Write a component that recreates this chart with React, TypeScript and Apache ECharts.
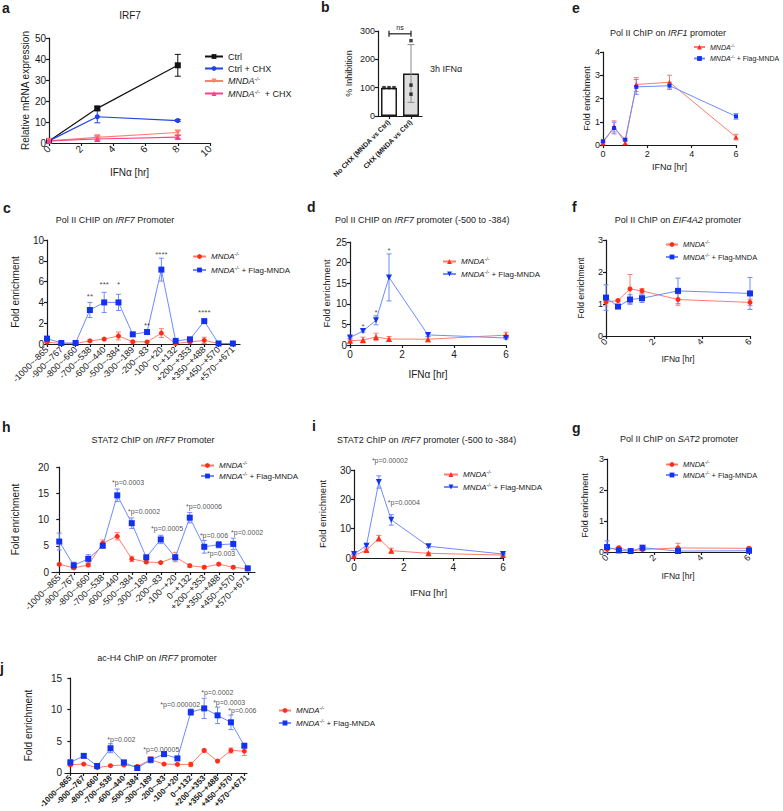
import React, { useEffect, useRef } from 'react';
import * as echarts from 'echarts';

const FONT = '"Liberation Sans", Arial, Helvetica, sans-serif';

// ---------- Panel a ----------
const aTimes = [0, 3, 8];
const aCtrl = [1, 16.5, 37];
const aCtrlErr = [0.3, 0.8, 5.2];
const aCtrlChx = [1, 12.5, 10.7];
const aCtrlChxErr = [0.3, 2.9, 0.5];
const aMnda = [1, 2.7, 5.0];
const aMndaErr = [0.3, 0.8, 1.0];
const aMndaChx = [1, 1.9, 2.8];
const aMndaChxErr = [0.3, 1.0, 0.8];

// ---------- Panel b ----------
const bCats = ['No CHX (MNDA vs Ctrl)', 'CHX (MNDA vs Ctrl)'];
const bMeans = [100, 150];
const bErr = [0, 102];
const bDots0 = [100, 100, 100];
const bDots1 = [266, 109, 77];
const bDotOffsets0 = [-5, 0, 5];

// ---------- time axes ----------
const tHours = [0, 0.5, 1, 1.5, 3, 6];

// ---------- Panel e (IRF1) ----------
const eMnda = [0.09, 0.8, 0.1, 2.6, 2.7, 0.34];
const eMndaErr = [0.05, 0.24, 0.08, 0.3, 0.3, 0.12];
const eFlag = [0.16, 0.73, 0.23, 2.5, 2.55, 1.23];
const eFlagErr = [0.05, 0.25, 0.05, 0.32, 0.15, 0.12];

// ---------- Promoter regions ----------
const regions = [
  '-1000~-865', '-900~-767', '-800~-660', '-700~-538', '-600~-440', '-500~-384', '-300~-189',
  '-200~-83', '-100~+20', '0~+132', '+200~+353', '+350~+488', '+450~+570', '+570~+671',
];

// ---------- Panel c ----------
const cMnda = [0.18, 0.05, 0.05, 0.3, 0.47, 0.77, 0.22, 0.2, 1.05, 0.05, 0.2, 0.35, 0.05, 0.05];
const cMndaErr = [0.05, 0.03, 0.03, 0.1, 0.1, 0.38, 0.05, 0.05, 0.42, 0.03, 0.05, 0.3, 0.03, 0.03];
const cFlag = [0.52, 0.1, 0.1, 3.27, 4.0, 4.0, 0.93, 1.15, 7.15, 0.3, 0.45, 2.2, 0.05, 0.05];
const cFlagErr = [0.1, 0.03, 0.03, 0.73, 0.97, 0.78, 0.08, 0.2, 1.1, 0.05, 0.05, 0.1, 0.02, 0.02];
const cStarIdx = [3, 4, 5, 7, 8, 11];
const cStarY = [4.55, 5.7, 5.7, 1.76, 8.6, 3.0];
const cStarText = ['**', '***', '*', '**', '****', '****'];

// ---------- Panel d ----------
const dMnda = [1.05, 1.2, 1.95, 1.45, 1.4, 2.4];
const dMndaErr = [0.3, 0.7, 0.9, 0.6, 0.6, 0.7];
const dFlag = [1.8, 3.4, 6.0, 16.4, 2.45, 1.7];
const dFlagErr = [0.2, 0.3, 1.1, 5.7, 0.4, 0.3];
const dStarX = [0.5, 1, 1.5];
const dStarY = [4.6, 7.9, 22.9];
const dStarText = ['*', '*', '*'];

// ---------- Panel f (EIF4A2) ----------
const fMnda = [1.06, 1.11, 1.47, 1.41, 1.14, 1.05];
const fMndaErr = [0.12, 0.03, 0.45, 0.07, 0.18, 0.1];
const fFlag = [1.2, 0.92, 1.14, 1.18, 1.41, 1.33];
const fFlagErr = [0.4, 0.04, 0.15, 0.13, 0.4, 0.5];

// ---------- Panel h ----------
const hMnda = [1.46, 0.8, 1.33, 5.5, 6.8, 2.5, 1.9, 1.8, 2.85, 1.2, 0.9, 1.5, 0.9, 0.6];
const hMndaErr = [0.2, 0.3, 0.3, 0.6, 0.7, 0.5, 0.2, 0.2, 0.9, 0.3, 0.2, 0.2, 0.2, 0.1];
const hFlag = [5.8, 1.27, 2.5, 5.0, 14.6, 9.3, 2.8, 6.2, 2.8, 10.35, 4.8, 5.2, 5.35, 0.7];
const hFlagErr = [1.6, 0.6, 0.8, 0.4, 1.2, 1.0, 0.2, 0.8, 0.5, 1.0, 1.2, 0.6, 1.1, 0.1];
const hNoteX = [3.64, 4.74, 6.33, 8.74, 9.7, 10.19, 11.85];
const hNoteY = [17.1, 11.5, 8.2, 12.4, 6.9, 3.6, 7.6];
const hNoteText = ['*p=0.0003', '*p=0.0002', '*p=0.0005', '*p=0.00006', '*p=0.006', '*p=0.003', '*p=0.0002'];

// ---------- Panel i ----------
const iMnda = [0.8, 2.7, 6.7, 2.5, 1.6, 1.0];
const iMndaErr = [0.2, 0.4, 1.0, 0.8, 0.2, 0.2];
const iFlag = [1.35, 4.2, 25.9, 13.0, 4.0, 1.35];
const iFlagErr = [0.2, 0.4, 2.1, 1.8, 0.5, 0.2];
const iNoteX = [0.72, 1.36];
const iNoteY = [33.4, 19.0];
const iNoteText = ['*p=0.00002', '*p=0.0004'];

// ---------- Panel g (SAT2) ----------
const gMnda = [0.09, 0.14, 0.03, 0.08, 0.13, 0.12];
const gMndaErr = [0.03, 0.03, 0.02, 0.03, 0.15, 0.03];
const gFlag = [0.16, 0.05, 0.03, 0.14, 0.03, 0.04];
const gFlagErr = [0.2, 0.02, 0.02, 0.05, 0.02, 0.02];

// ---------- Panel j ----------
const jMnda = [1.3, 1.4, 0.83, 1.15, 1.25, 1.04, 2.08, 1.4, 1.35, 1.35, 3.55, 1.87, 3.55, 3.45];
const jMndaErr = [0.2, 0.1, 0.1, 0.1, 0.1, 0.1, 0.5, 0.1, 0.1, 0.35, 0.2, 0.1, 0.4, 0.7];
const jFlag = [1.67, 2.7, 1.1, 3.9, 1.67, 0.78, 2.08, 2.97, 2.3, 9.6, 10.2, 9.1, 8.0, 4.3];
const jFlagErr = [0.4, 0.25, 0.1, 0.7, 0.2, 0.15, 0.2, 0.1, 0.3, 0.5, 1.6, 1.3, 1.15, 0.25];
const jNoteX = [2.76, 5.45, 6.72, 9.78, 10.67, 11.8];
const jNoteY = [5.3, 3.75, 10.8, 12.7, 11.1, 9.8];
const jNoteText = ['*p=0.002', '*p=0.00005', '*p=0.000002', '*p=0.0002', '*p=0.0003', '*p=0.006'];

// ---------- styling ----------
const INK = '#1a1a1a';
const RED_D = '#ff2d1a';
const RED_L = '#ff7d6d';
const BLUE_D = '#1232f0';
const BLUE_L = '#6f8bff';

const LEGEND_LABELS: Record<string, string> = {
  aCtrl: 'Ctrl',
  aCtrlChx: 'Ctrl + CHX',
  aMnda: '{i|MNDA}{s|-/-}',
  aMndaChx: '{i|MNDA}{s|-/-}{n|  + CHX}',
};
['c', 'd', 'e', 'f', 'g', 'h', 'i', 'j'].forEach((p) => {
  LEGEND_LABELS[p + 'Mnda'] = '{i|MNDA}{s|-/-}';
  LEGEND_LABELS[p + 'Flag'] = '{i|MNDA}{s|-/-}{n| + Flag-MNDA}';
});

const errRender = (color: string, cap: number) => (_p: any, api: any) => {
  const x = api.value(0);
  const p1 = api.coord([x, api.value(1)]);
  const p2 = api.coord([x, api.value(2)]);
  const style = { stroke: color, lineWidth: 1, fill: 'none' };
  return {
    type: 'group',
    children: [
      { type: 'line', shape: { x1: p1[0], y1: p1[1], x2: p2[0], y2: p2[1] }, style },
      { type: 'line', shape: { x1: p1[0] - cap, y1: p1[1], x2: p1[0] + cap, y2: p1[1] }, style },
      { type: 'line', shape: { x1: p2[0] - cap, y1: p2[1], x2: p2[0] + cap, y2: p2[1] }, style },
    ],
  };
};

function lineS(name: string, gi: number, xs: number[], ys: number[], o: any) {
  return {
    type: 'line', name, xAxisIndex: gi, yAxisIndex: gi,
    data: xs.map((x, i) => [x, ys[i]]),
    symbol: o.symbol, symbolSize: o.size, symbolRotate: o.rotate || 0,
    itemStyle: { color: o.dark },
    lineStyle: { color: o.light, width: o.lw || 1 },
    z: 4, clip: false, silent: true,
  };
}
function errS(gi: number, xs: number[], ys: number[], es: number[], color: string, cap = 2.5) {
  return {
    type: 'custom', xAxisIndex: gi, yAxisIndex: gi,
    data: xs.map((x, i) => [x, ys[i] - es[i], ys[i] + es[i]]).filter((_d, i) => es[i] > 0),
    encode: { x: 0, y: [1, 2] },
    renderItem: errRender(color, cap), z: 3, silent: true,
  };
}
function notesS(gi: number, xs: number[], ys: number[], texts: string[], align: string, fs: number) {
  return {
    type: 'scatter', xAxisIndex: gi, yAxisIndex: gi, symbolSize: 1, clip: false, silent: true,
    itemStyle: { color: 'rgba(0,0,0,0)' },
    data: xs.map((x, i) => ({ value: [x, ys[i]], name: texts[i] })),
    label: {
      show: true, position: [0.5, 0.5], formatter: '{b}', align, verticalAlign: 'middle',
      fontSize: fs, color: INK, fontFamily: FONT, textBorderWidth: 0, textShadowBlur: 0,
    },
    z: 5,
  };
}

const AX_LINE = { show: true, lineStyle: { color: INK, width: 1.2 } };
const AX_TICK = { show: true, length: 3, lineStyle: { color: INK, width: 1.2 } };

function yAx(gi: number, max: number, interval: number, name: string, nameGap: number, fs: number, nfs: number) {
  return {
    type: 'value', gridIndex: gi, min: 0, max, interval, name, nameLocation: 'middle', nameGap,
    nameTextStyle: { fontSize: nfs, color: INK, fontFamily: FONT },
    axisLine: AX_LINE, axisTick: AX_TICK, splitLine: { show: false },
    axisLabel: { fontSize: fs, color: INK, margin: 3, fontFamily: FONT },
  };
}
function xVal(gi: number, max: number, interval: number, nameGap: number, rotate: number, fs: number, nfs: number) {
  return {
    type: 'value', gridIndex: gi, min: 0, max, interval, name: 'IFNα [hr]', nameLocation: 'middle', nameGap,
    nameTextStyle: { fontSize: nfs, color: INK, fontFamily: FONT },
    axisLine: AX_LINE, axisTick: AX_TICK, splitLine: { show: false },
    axisLabel: { fontSize: fs, color: INK, margin: 4, rotate, fontFamily: FONT },
  };
}
function xCat(gi: number, min: number, max: number, bold: boolean, fs: number) {
  const idx = regions.map((_r, i) => i);
  return {
    type: 'value', gridIndex: gi, min, max,
    axisLine: AX_LINE, splitLine: { show: false },
    axisTick: { ...AX_TICK, customValues: idx },
    axisLabel: {
      customValues: idx, formatter: (v: number) => regions[Math.round(v)] ?? '',
      rotate: 45, fontSize: fs, color: INK, margin: 4, fontWeight: bold ? 'bold' : 'normal', fontFamily: FONT,
    },
  };
}

function legendAt(left: number, top: number, names: string[], fs: number, gap: number, iw: number) {
  return {
    orient: 'vertical', left, top, padding: 0, itemGap: gap, itemWidth: iw, itemHeight: 6,
    selectedMode: false, data: names,
    formatter: (n: string) => LEGEND_LABELS[n],
    textStyle: {
      fontSize: fs, color: INK, fontFamily: FONT,
      rich: {
        i: { fontStyle: 'italic', fontSize: fs, fontFamily: FONT, color: INK },
        s: { fontStyle: 'italic', fontSize: fs * 0.62, fontFamily: FONT, color: INK, verticalAlign: 'top', padding: [0, 0, 4, 0] },
        n: { fontSize: fs, fontFamily: FONT, color: INK },
      },
    },
  };
}

function gText(x: number, y: number, text: string, fs: number, align: string, bold = false) {
  return {
    type: 'text', x, y, silent: true,
    style: {
      text, fontFamily: FONT, fontSize: fs, fontWeight: bold ? 'bold' : 'normal', fill: INK,
      align, verticalAlign: 'middle',
      rich: {
        i: { fontStyle: 'italic', fontSize: fs, fontFamily: FONT, fill: INK },
      },
    },
  };
}

const MNDA_TRI = { symbol: 'triangle', size: 6, dark: RED_D, light: RED_L };
const FLAG_TRI = { symbol: 'triangle', size: 6, rotate: 180, dark: BLUE_D, light: BLUE_L };
const MNDA_CIR = { symbol: 'circle', size: 5, dark: RED_D, light: RED_L };
const FLAG_SQ = { symbol: 'rect', size: 6, dark: BLUE_D, light: BLUE_L };

function pairSeries(p: string, gi: number, xs: number[], m: number[], me: number[], f: number[], fe: number[], mStyle: any, fStyle: any) {
  return [
    errS(gi, xs, m, me, RED_L),
    errS(gi, xs, f, fe, BLUE_L),
    lineS(p + 'Mnda', gi, xs, m, mStyle),
    lineS(p + 'Flag', gi, xs, f, fStyle),
  ];
}

function buildOption() {
  const regIdx = regions.map((_r, i) => i);
  const grid = [
    { left: 49, top: 38, width: 161, height: 105 }, // a
    { left: 378, top: 31, width: 44, height: 85 }, // b
    { left: 603, top: 52, width: 133, height: 93 }, // e
    { left: 47, top: 240, width: 193, height: 104 }, // c
    { left: 350, top: 242, width: 156, height: 103 }, // d
    { left: 606, top: 240, width: 144, height: 96 }, // f
    { left: 52, top: 467, width: 203, height: 105 }, // h
    { left: 354, top: 470, width: 149, height: 88 }, // i
    { left: 607, top: 459, width: 142, height: 93 }, // g
    { left: 65, top: 678, width: 182, height: 96 }, // j
  ];

  const xAxis: any[] = [
    xVal(0, 10, 2, 24, 45, 10, 10),
    {
      type: 'category', gridIndex: 1, data: bCats, boundaryGap: true,
      axisLine: AX_LINE, axisTick: { ...AX_TICK, alignWithLabel: true },
      axisLabel: { rotate: 45, fontSize: 7, fontWeight: 'bold', color: INK, margin: 5, interval: 0, fontFamily: FONT },
    },
    xVal(2, 6, 2, 17, 0, 9, 9),
    xCat(3, 0, 13.5, false, 9),
    xVal(4, 6, 2, 24, 0, 10, 10),
    xVal(5, 6, 2, 18, 45, 9, 8.5),
    xCat(6, -0.5, 13.5, false, 9),
    xVal(7, 6, 2, 29, 0, 10, 9.5),
    xVal(8, 6, 2, 19, 45, 9, 8.5),
    xCat(9, -0.4, 13.2, true, 8),
  ];
  const yAxis: any[] = [
    yAx(0, 50, 10, 'Relative mRNA expression', 16, 10, 10),
    yAx(1, 300, 100, '% Inhibition', 25, 9, 9),
    yAx(2, 4, 1, 'Fold enrichment', 11, 9, 9),
    yAx(3, 10, 2, 'Fold enrichment', 27, 10, 10),
    yAx(4, 25, 5, 'Fold enrichment', 17, 10, 9.5),
    yAx(5, 3, 1, 'Fold enrichment', 21, 9, 8.5),
    yAx(6, 20, 5, 'Fold enrichment', 32, 10, 10),
    yAx(7, 30, 10, 'Fold enrichment', 27, 10, 9.5),
    yAx(8, 3, 1, 'Fold enrichment', 18, 9, 9),
    yAx(9, 15, 5, 'Fold enrichment', 32, 10, 10),
  ];

  const series: any[] = [
    // a
    errS(0, aTimes, aCtrl, aCtrlErr, '#111', 3),
    errS(0, aTimes, aCtrlChx, aCtrlChxErr, '#2244dd', 3),
    errS(0, aTimes, aMnda, aMndaErr, '#ff8070', 3),
    errS(0, aTimes, aMndaChx, aMndaChxErr, '#ff3f8c', 3),
    lineS('aCtrl', 0, aTimes, aCtrl, { symbol: 'rect', size: 6, dark: '#111', light: '#111', lw: 1.2 }),
    lineS('aCtrlChx', 0, aTimes, aCtrlChx, { symbol: 'circle', size: 5, dark: '#2244dd', light: '#2244dd', lw: 1.2 }),
    lineS('aMnda', 0, aTimes, aMnda, { symbol: 'triangle', size: 6, rotate: 180, dark: '#ff8070', light: '#ff8070', lw: 1.2 }),
    lineS('aMndaChx', 0, aTimes, aMndaChx, { symbol: 'triangle', size: 6, dark: '#ff3f8c', light: '#ff3f8c', lw: 1.2 }),
    // b
    {
      type: 'bar', xAxisIndex: 1, yAxisIndex: 1, barWidth: 16, silent: true, z: 2,
      data: bMeans.map((v, i) => ({
        value: v,
        itemStyle: { color: i === 0 ? '#ffffff' : '#dedede', borderColor: INK, borderWidth: 1.5 },
      })),
    },
    {
      type: 'custom', xAxisIndex: 1, yAxisIndex: 1, silent: true, z: 3,
      data: bMeans.map((m, i) => [i, m - bErr[i], m + bErr[i]]).filter((_d, i) => bErr[i] > 0),
      encode: { x: 0, y: [1, 2] },
      renderItem: errRender('#8a8a8a', 3.5),
    },
    {
      type: 'scatter', xAxisIndex: 1, yAxisIndex: 1, symbol: 'rect', symbolSize: 3.5, silent: true, z: 4,
      itemStyle: { color: '#111' },
      data: [
        ...bDots0.map((v, k) => ({ value: [0, v], symbolOffset: [bDotOffsets0[k], 0] })),
        ...bDots1.map((v) => ({ value: [1, v] })),
      ],
    },
    {
      type: 'custom', xAxisIndex: 1, yAxisIndex: 1, silent: true, z: 5,
      data: [[0, 1, 290]],
      renderItem: (_p: any, api: any) => {
        const a = api.coord([api.value(0), api.value(2)]);
        const b = api.coord([api.value(1), api.value(2)]);
        const st = { stroke: INK, lineWidth: 1.2 };
        return {
          type: 'group',
          children: [
            { type: 'line', shape: { x1: a[0], y1: a[1], x2: b[0], y2: b[1] }, style: st },
            { type: 'line', shape: { x1: a[0], y1: a[1] - 3, x2: a[0], y2: a[1] + 3 }, style: st },
            { type: 'line', shape: { x1: b[0], y1: b[1] - 3, x2: b[0], y2: b[1] + 3 }, style: st },
            {
              type: 'text', x: (a[0] + b[0]) / 2, y: a[1] - 3,
              style: { text: 'ns', fontSize: 7, fontFamily: FONT, fill: INK, align: 'center', verticalAlign: 'bottom' },
            },
          ],
        };
      },
    },
    // e
    ...pairSeries('e', 2, tHours, eMnda, eMndaErr, eFlag, eFlagErr,
      { ...MNDA_TRI, size: 5 }, { symbol: 'rect', size: 4, dark: BLUE_D, light: BLUE_L }),
    // c
    ...pairSeries('c', 3, regIdx, cMnda, cMndaErr, cFlag, cFlagErr, MNDA_CIR, FLAG_SQ),
    notesS(3, cStarIdx, cStarY, cStarText, 'center', 8),
    // d
    ...pairSeries('d', 4, tHours, dMnda, dMndaErr, dFlag, dFlagErr, MNDA_TRI, FLAG_TRI),
    notesS(4, dStarX, dStarY, dStarText, 'center', 8),
    // f
    ...pairSeries('f', 5, tHours, fMnda, fMndaErr, fFlag, fFlagErr, MNDA_CIR, FLAG_SQ),
    // h
    ...pairSeries('h', 6, regIdx, hMnda, hMndaErr, hFlag, hFlagErr, MNDA_CIR, FLAG_SQ),
    notesS(6, hNoteX, hNoteY, hNoteText, 'left', 7),
    // i
    ...pairSeries('i', 7, tHours, iMnda, iMndaErr, iFlag, iFlagErr, MNDA_TRI, FLAG_TRI),
    notesS(7, iNoteX, iNoteY, iNoteText, 'left', 7),
    // g
    ...pairSeries('g', 8, tHours, gMnda, gMndaErr, gFlag, gFlagErr, MNDA_CIR, FLAG_SQ),
    // j
    ...pairSeries('j', 9, regIdx, jMnda, jMndaErr, jFlag, jFlagErr, MNDA_CIR, FLAG_SQ),
    notesS(9, jNoteX, jNoteY, jNoteText, 'left', 7),
  ];

  const legend = [
    legendAt(204, 52, ['aCtrl', 'aCtrlChx', 'aMnda', 'aMndaChx'], 9, 3, 18),
    legendAt(693, 43, ['eMnda', 'eFlag'], 7, 4, 11),
    legendAt(192, 252, ['cMnda', 'cFlag'], 8, 5, 13),
    legendAt(442, 257, ['dMnda', 'dFlag'], 8, 4, 13),
    legendAt(665, 240, ['fMnda', 'fFlag'], 7.5, 4, 12),
    legendAt(200, 461, ['hMnda', 'hFlag'], 8, 2, 13),
    legendAt(443, 470, ['iMnda', 'iFlag'], 8, 4, 14),
    legendAt(665, 460, ['gMnda', 'gFlag'], 7.5, 2, 12),
    legendAt(278, 706, ['jMnda', 'jFlag'], 8, 4, 12),
  ];

  const graphic = [
    // panel letters
    gText(2, 8, 'a', 14, 'left', true),
    gText(321, 7, 'b', 14, 'left', true),
    gText(572, 8, 'e', 14, 'left', true),
    gText(3, 208, 'c', 14, 'left', true),
    gText(307, 207, 'd', 14, 'left', true),
    gText(572, 207, 'f', 14, 'left', true),
    gText(2, 427, 'h', 14, 'left', true),
    gText(312, 426, 'i', 14, 'left', true),
    gText(572, 428, 'g', 14, 'left', true),
    gText(0, 668, 'j', 14, 'left', true),
    // titles
    gText(130, 15, 'IRF7', 10, 'center'),
    gText(430, 69, '3h IFNα', 9, 'left'),
    gText(668, 33, 'Pol II ChIP on {i|IRF1} promoter', 9, 'center'),
    gText(115, 220, 'Pol II CHIP on {i|IRF7} Promoter', 9, 'center'),
    gText(335, 220, 'Pol II CHIP on {i|IRF7} promoter (-500 to -384)', 9, 'left'),
    gText(678, 220, 'Pol II ChIP on {i|EIF4A2} promoter', 9, 'center'),
    gText(153, 440, 'STAT2 ChIP on {i|IRF7} Promoter', 9, 'center'),
    gText(337, 440, 'STAT2 ChIP on {i|IRF7} promoter (-500 to -384)', 9, 'left'),
    gText(679, 439, 'Pol II ChIP on {i|SAT2} promoter', 9, 'center'),
    gText(157, 658, 'ac-H4 ChIP on {i|IRF7} promoter', 9, 'center'),
  ];

  return {
    animation: false,
    backgroundColor: '#ffffff',
    textStyle: { fontFamily: FONT },
    grid, xAxis, yAxis, series, legend, graphic,
  };
}

export default function App() {
  const ref = useRef<HTMLDivElement>(null);
  useEffect(() => {
    if (!ref.current) return;
    const chart = echarts.init(ref.current, undefined, { renderer: 'svg' });
    chart.setOption(buildOption() as any);
    return () => chart.dispose();
  }, []);
  return (
    <div
      ref={ref}
      style={{ position: 'absolute', left: 0, top: 0, width: 783, height: 811, background: '#fff' }}
    />
  );
}
